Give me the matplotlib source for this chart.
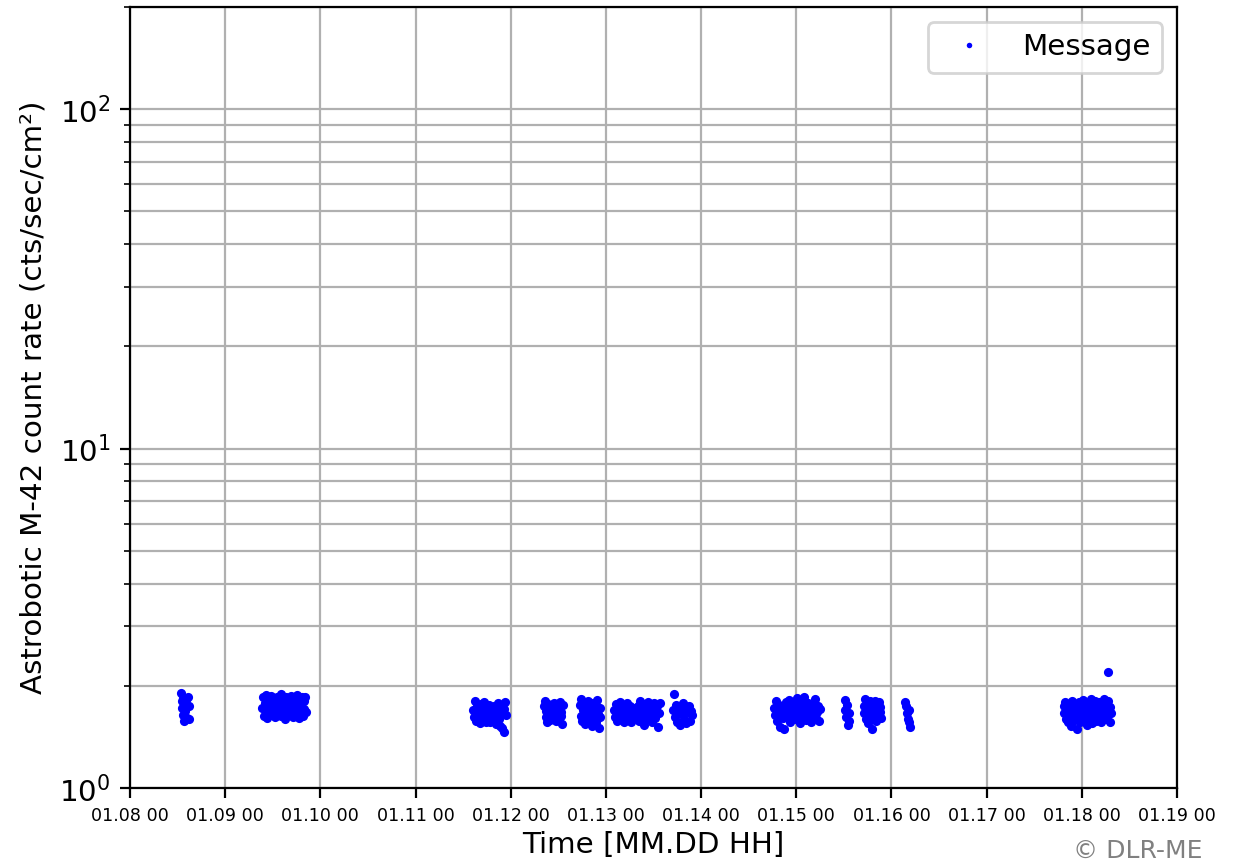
import numpy as np
import matplotlib
matplotlib.use("Agg")
import matplotlib.pyplot as plt
import matplotlib.dates as mdates

# Hours since 2024-01-08 00:00 and count rates (cts/sec/cm²) for each pass
c1_t = [12.8, 13.0, 13.2, 13.4, 13.5, 13.7, 13.9, 14.0, 14.2, 14.4, 14.6, 14.8, 15.0, 13.6]
c1_v = [1.90, 1.80, 1.72, 1.84, 1.64, 1.58, 1.76, 1.69, 1.82, 1.61, 1.86, 1.74, 1.60, 1.79]

c2_t = [33.4, 33.6, 33.8, 34.0, 34.2, 34.4, 34.6, 34.8, 35.0, 35.2, 35.4, 35.6, 35.8, 36.0,
        36.2, 36.4, 36.6, 36.8, 37.0, 37.2, 37.4, 37.6, 37.8, 38.0, 38.2, 38.4, 38.6, 38.8,
        39.0, 39.2, 39.4, 39.6, 39.8, 40.0, 40.2, 40.4, 40.6, 40.8, 41.0, 41.2, 41.4, 41.6,
        41.8, 42.0, 42.2, 42.4, 42.6, 42.8, 43.0, 43.2, 43.4, 43.6, 43.8, 44.0, 44.2, 44.4]
c2_v = [1.72, 1.85, 1.63, 1.78, 1.69, 1.88, 1.61, 1.75, 1.82, 1.66,
        1.73, 1.87, 1.64, 1.79, 1.70, 1.84, 1.62, 1.76, 1.68, 1.86,
        1.65, 1.80, 1.71, 1.89, 1.63, 1.77, 1.83, 1.67, 1.74, 1.60,
        1.85, 1.69, 1.81, 1.64, 1.78, 1.72, 1.87, 1.66, 1.75, 1.62,
        1.83, 1.70, 1.79, 1.65, 1.88, 1.73, 1.61, 1.84, 1.68, 1.76,
        1.86, 1.63, 1.80, 1.71, 1.85, 1.67]

c3_t = [86.6, 86.8, 87.0, 87.2, 87.4, 87.6, 87.8, 88.0, 88.2, 88.4, 88.6, 88.8, 89.0, 89.2,
        89.4, 89.6, 89.8, 90.0, 90.2, 90.4, 90.6, 90.8, 91.0, 91.2, 91.4, 91.6, 91.8, 92.0,
        92.2, 92.4, 92.6, 92.8, 93.0, 93.2, 93.4, 93.6, 93.8, 94.0, 94.2, 94.4, 94.6, 94.8]
c3_v = [1.70, 1.62, 1.81, 1.58, 1.66, 1.74, 1.60, 1.68, 1.55, 1.77,
        1.64, 1.71, 1.59, 1.79, 1.63, 1.67, 1.56, 1.73, 1.61, 1.69,
        1.76, 1.57, 1.65, 1.72, 1.62, 1.58, 1.75, 1.66, 1.54, 1.70,
        1.63, 1.78, 1.60, 1.68, 1.52, 1.74, 1.50, 1.66, 1.46, 1.71,
        1.79, 1.64]

c4_t = [104.4, 104.6, 104.8, 105.0, 105.2, 105.4, 105.6, 105.8, 106.0, 106.2, 106.4, 106.6,
        106.8, 107.0, 107.2, 107.4, 107.6, 107.8, 108.0, 108.2, 108.4, 108.6, 108.8, 109.0, 109.2]
c4_v = [1.74, 1.80, 1.62, 1.69, 1.56, 1.77, 1.65, 1.71, 1.59, 1.67,
        1.73, 1.61, 1.78, 1.64, 1.70, 1.58, 1.75, 1.66, 1.72, 1.60,
        1.79, 1.63, 1.68, 1.54, 1.76]

c5_t = [113.4, 113.6, 113.8, 114.0, 114.2, 114.4, 114.6, 114.8, 115.0, 115.2, 115.4, 115.6,
        115.8, 116.0, 116.2, 116.4, 116.6, 116.8, 117.0, 117.2, 117.4, 117.6, 117.8, 118.0,
        118.2, 118.4, 118.6]
c5_v = [1.76, 1.63, 1.83, 1.58, 1.70, 1.66, 1.79, 1.54, 1.73, 1.61,
        1.68, 1.81, 1.57, 1.75, 1.64, 1.71, 1.52, 1.78, 1.60, 1.69,
        1.74, 1.56, 1.82, 1.65, 1.50, 1.72, 1.62]

c6_t = [122.0, 122.25, 122.5, 122.75, 123.0, 123.25, 123.5, 123.75, 124.0, 124.25, 124.5,
        124.75, 125.0, 125.25, 125.5, 125.75, 126.0, 126.25, 126.5, 126.75, 127.0]
c6_v = [1.70, 1.62, 1.77, 1.58, 1.73, 1.66, 1.79, 1.60, 1.68, 1.75,
        1.56, 1.71, 1.64, 1.78, 1.61, 1.69, 1.74, 1.57, 1.67, 1.72, 1.63]

c7_t = [127.7, 128.0, 128.3, 128.6, 128.9, 129.2, 129.5, 129.8, 130.1, 130.4, 130.7,
        131.0, 131.3, 131.6, 131.9, 132.2, 132.5, 132.8, 133.1, 133.4, 133.7]
c7_v = [1.65, 1.74, 1.58, 1.81, 1.62, 1.70, 1.53, 1.77, 1.67, 1.60,
        1.79, 1.64, 1.72, 1.56, 1.69, 1.78, 1.61, 1.74, 1.51, 1.66, 1.78]

c8_t = [137.0, 137.3, 137.6, 137.9, 138.2, 138.5, 138.8, 139.1, 139.4, 139.7, 140.0,
        140.3, 140.6, 140.9, 141.2, 141.5, 141.8, 137.1]
c8_v = [1.70, 1.62, 1.76, 1.57, 1.68, 1.73, 1.53, 1.65, 1.78, 1.60,
        1.71, 1.55, 1.67, 1.75, 1.58, 1.69, 1.64, 1.89]

c9_t = [162.5, 162.75, 163.0, 163.25, 163.5, 163.75, 164.0, 164.25, 164.5, 164.75, 165.0,
        165.25, 165.5, 165.75, 166.0, 166.25, 166.5, 166.75, 167.0, 167.25, 167.5, 167.75,
        168.0, 168.25, 168.5, 168.75, 169.0, 169.25, 169.5, 169.75, 170.0, 170.25, 170.5,
        170.75, 171.0, 171.25, 171.5, 171.75, 172.0, 172.25, 172.5, 172.75, 173.0, 173.25,
        173.5, 173.75, 174.0]
c9_v = [1.72, 1.64, 1.80, 1.58, 1.69, 1.76, 1.51, 1.66, 1.74, 1.61,
        1.49, 1.70, 1.79, 1.63, 1.67, 1.82, 1.57, 1.73, 1.65, 1.77,
        1.60, 1.71, 1.68, 1.84, 1.62, 1.75, 1.55, 1.69, 1.81, 1.64,
        1.85, 1.72, 1.59, 1.67, 1.78, 1.63, 1.70, 1.56, 1.76, 1.66,
        1.73, 1.83, 1.61, 1.68, 1.74, 1.58, 1.71]

c10_t = [180.2, 180.4, 180.6, 180.8, 181.0, 181.2, 181.4]
c10_v = [1.82, 1.70, 1.62, 1.76, 1.53, 1.66, 1.58]

c11_t = [185.0, 185.2, 185.4, 185.6, 185.8, 186.0, 186.2, 186.4, 186.6, 186.8, 187.0, 187.2,
         187.4, 187.6, 187.8, 188.0, 188.2, 188.4, 188.6, 188.8, 189.0, 189.2, 189.4]
c11_v = [1.74, 1.66, 1.83, 1.60, 1.71, 1.78, 1.55, 1.68, 1.80, 1.63,
         1.72, 1.49, 1.76, 1.65, 1.81, 1.58, 1.69, 1.75, 1.62, 1.79,
         1.67, 1.73, 1.61]

c12_t = [195.5, 195.7, 195.9, 196.1, 196.3, 196.5, 196.7]
c12_v = [1.79, 1.74, 1.66, 1.60, 1.70, 1.56, 1.51]

c13_t = [235.4, 235.6, 235.8, 236.0, 236.2, 236.4, 236.6, 236.8, 237.0, 237.2, 237.4, 237.6,
         237.8, 238.0, 238.2, 238.4, 238.6, 238.8, 239.0, 239.2, 239.4, 239.6, 239.8, 240.0,
         240.2, 240.4, 240.6, 240.8, 241.0, 241.2, 241.4, 241.6, 241.8, 242.0, 242.2, 242.4,
         242.6, 242.8, 243.0, 243.2, 243.4, 243.6, 243.8, 244.0, 244.2, 244.4, 244.6, 244.8,
         245.0, 245.2, 245.4, 245.6, 245.8, 246.0, 246.2, 246.4, 246.6, 246.8, 247.0, 247.2,
         247.4, 246.5]
c13_v = [1.74, 1.66, 1.79, 1.60, 1.70, 1.56, 1.76, 1.63, 1.68, 1.52,
         1.72, 1.81, 1.58, 1.65, 1.77, 1.61, 1.69, 1.49, 1.73, 1.64,
         1.79, 1.57, 1.71, 1.67, 1.82, 1.59, 1.75, 1.62, 1.70, 1.53,
         1.78, 1.66, 1.73, 1.60, 1.83, 1.68, 1.55, 1.76, 1.64, 1.71,
         1.81, 1.58, 1.74, 1.67, 1.62, 1.79, 1.69, 1.56, 1.77, 1.65,
         1.72, 1.83, 1.60, 1.75, 1.68, 1.63, 1.80, 1.70, 1.57, 1.73,
         1.66, 2.20]

start_date = "2024-01-08"
end_date = "2024-01-19"
series_label = "Message"
x_label = "Time [MM.DD HH]"
y_label = "Astrobotic M-42 count rate (cts/sec/cm²)"
credit = "© DLR-ME"

hours = np.concatenate([c1_t, c2_t, c3_t, c4_t, c5_t, c6_t, c7_t, c8_t, c9_t,
                        c10_t, c11_t, c12_t, c13_t])
rates = np.concatenate([c1_v, c2_v, c3_v, c4_v, c5_v, c6_v, c7_v, c8_v, c9_v,
                        c10_v, c11_v, c12_v, c13_v])
n = min(len(hours), len(rates))
hours, rates = hours[:n], rates[:n]

t0 = np.datetime64(start_date + "T00:00")
times = t0 + (hours * 3600).astype("timedelta64[s]")
times = mdates.date2num(times.astype("datetime64[s]").astype(object))

fig = plt.figure(figsize=(6.2, 4.315), dpi=200)
ax = fig.add_axes([0.1048, 0.0869, 0.8444, 0.905])

ax.plot(times, rates, "o", color="blue", ms=3.3, mew=0, label=series_label)
ax.set_yscale("log")
ax.set_ylim(1, 200)
ax.set_xlim(mdates.date2num(np.datetime64(start_date + "T00:00").astype(object)),
            mdates.date2num(np.datetime64(end_date + "T00:00").astype(object)))
ax.xaxis.set_major_locator(mdates.DayLocator())
ax.xaxis.set_major_formatter(mdates.DateFormatter("%m.%d %H"))
ax.tick_params(axis="x", labelsize=6.3)
ax.tick_params(axis="y", labelsize=10.6)
ax.grid(True, which="major", color="#b0b0b0", lw=0.8)
ax.grid(True, which="minor", axis="y", color="#b0b0b0", lw=0.8)
ax.set_xlabel(x_label, fontsize=10.6, labelpad=2)
ax.set_ylabel(y_label, fontsize=10.6)
ax.legend(loc="upper right", fontsize=10.6, markerscale=0.6)
fig.text(0.97, 0.0, credit, ha="right", va="bottom", fontsize=9, color="#808080")

fig.savefig("out.png", dpi=200)
